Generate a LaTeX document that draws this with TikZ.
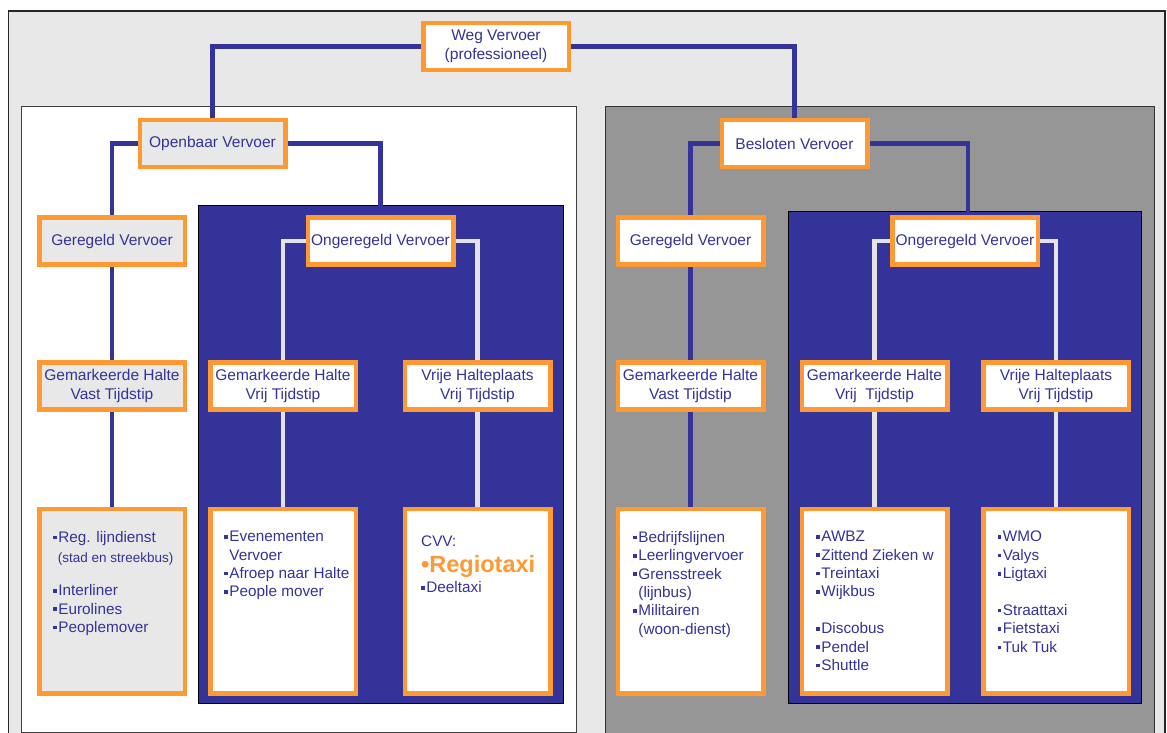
\documentclass[tikz,border=0pt]{standalone}
\usepackage{fontspec}
\setmainfont{Liberation Sans}
\definecolor{navy}{HTML}{333399}
\definecolor{orng}{HTML}{FF9933}
\definecolor{bgray}{HTML}{E8E8E8}
\definecolor{dgray}{HTML}{969696}
\definecolor{lline}{HTML}{E2E2E8}
\newcommand\sqb{\rule[0.2em]{0.24em}{0.24em}\kern0.1em}
\newcommand\sqind{\hspace*{0.34em}}
\pgfdeclarelayer{panels}
\pgfdeclarelayer{links}
\pgfsetlayers{panels,links,main}
\tikzset{
  box/.style={draw=orng, line width=4.5pt, fill=white, text=navy, align=center,
    font=\fontsize{15.5}{18.7}\selectfont, inner sep=0pt,
    minimum width=145.5pt, minimum height=47pt},
  graybox/.style={box, fill=bgray},
  leafbox/.style={box, minimum height=184.5pt},
  grayleaf/.style={leafbox, fill=bgray},
  navyline/.style={draw=navy, line width=4.5pt},
  wline/.style={draw=lline, line width=4.5pt},
  leaftext/.style={anchor=north west, inner sep=0pt, align=left, text=navy,
    font=\fontsize{15.3}{18.4}\selectfont},
  panelnavy/.style={fill=navy, draw=black, line width=1pt},
}
\begin{document}
\begin{tikzpicture}[x=1pt,y=-1pt]
\useasboundingbox (0,0) rectangle (1167,733);
% panels
\begin{pgfonlayer}{panels}
  \fill[white] (0,0) rectangle (1167,733);
  \draw[fill=bgray, draw=black!85, line width=1.5pt] (8.5,11) rectangle (1165,745);
  \draw[fill=white, draw=black!75, line width=1pt] (21.5,107) rectangle (576,732);
  \draw[fill=dgray, draw=black!80, line width=1pt] (605,107) rectangle (1154.5,745);
  \draw[panelnavy] (198,205) rectangle (563,703);
  \draw[panelnavy] (788.5,211) rectangle (1141.5,703);
\end{pgfonlayer}

% level 1
\node[box] (weg) at (496,46.5) {Weg Vervoer\\(professioneel)};
% level 2
\node[graybox] (openb) at (212.5,143.5) {Openbaar Vervoer};
\node[box] (beslo) at (794.5,143.5) {Besloten Vervoer};
% level 3
\node[graybox] (gerL) at (112,241) {Geregeld Vervoer};
\node[box] (ongL) at (380.5,241) {Ongeregeld Vervoer};
\node[box] (gerR) at (690.5,241) {Geregeld Vervoer};
\node[box] (ongR) at (965,241) {Ongeregeld Vervoer};
% level 4
\node[graybox] (gmL) at (112,386) {Gemarkeerde Halte\\Vast Tijdstip};
\node[box] (gmvL) at (283,386) {Gemarkeerde Halte\\Vrij Tijdstip};
\node[box] (vhL) at (477.5,386) {Vrije Halteplaats\\Vrij Tijdstip};
\node[box] (gmR) at (690.5,386) {Gemarkeerde Halte\\Vast Tijdstip};
\node[box] (gmvR) at (874.5,386) {Gemarkeerde Halte\\Vrij~ Tijdstip};
\node[box] (vhR) at (1056,386) {Vrije Halteplaats\\Vrij Tijdstip};
% leaves
\node[grayleaf] (lfL1) at (112,601) {};
\node[leafbox] (lfL2) at (283,601) {};
\node[leafbox] (lfL3) at (477.5,601) {};
\node[leafbox] (lfR1) at (690.5,601) {};
\node[leafbox] (lfR2) at (874.5,601) {};
\node[leafbox] (lfR3) at (1056,601) {};

% leaf texts
\node[leaftext] (tL1) at (53,531) {\sqb Reg. lijndienst\\[1.6pt]
  {\fontsize{13.5}{16}\selectfont\sqind(stad en streekbus)}\\[15pt]
  \sqb Interliner\\ \sqb Eurolines\\ \sqb Peoplemover};
\node[leaftext] (tL2) at (224,531) {\sqb Evenementen\\ \sqind Vervoer\\
  \sqb Afroep naar Halte\\ \sqb People mover};
\node[leaftext] (tL3) at (421,536) {CVV:\\[7pt]
  {\bfseries\fontsize{23.5}{26}\selectfont\color{orng}•Regiotaxi}\\[2pt]
  \sqb Deeltaxi};
\node[leaftext] (tR1) at (633,531) {\sqb Bedrijfslijnen\\ \sqb Leerlingvervoer\\
  \sqb Grensstreek\\ \sqind(lijnbus)\\ \sqb Militairen\\ \sqind(woon-dienst)};
\node[leaftext] (tR2) at (816,531) {\sqb AWBZ\\ \sqb Zittend Zieken w\\
  \sqb Treintaxi\\ \sqb Wijkbus\\[18.4pt] \sqb Discobus\\ \sqb Pendel\\ \sqb Shuttle};
\node[leaftext] (tR3) at (997.5,531) {\sqb WMO\\ \sqb Valys\\ \sqb Ligtaxi\\[18.4pt]
  \sqb Straattaxi\\ \sqb Fietstaxi\\ \sqb Tuk Tuk};

% connectors
\begin{pgfonlayer}{links}
  \draw[navyline] (weg.west) -| (openb.north);
  \draw[navyline] (weg.east) -| (beslo.north);
  \draw[navyline] (openb.west) -| (gerL.north);
  \draw[navyline] (openb.east) -| (ongL.north);
  \draw[navyline] (beslo.west) -| (gerR.north);
  \draw[navyline] (beslo.east) -| ([xshift=3pt]ongR.north);
  \draw[navyline] (gerL.south) -- (gmL.north);
  \draw[navyline] (gmL.south) -- (lfL1.north);
  \draw[navyline] (gerR.south) -- (gmR.north);
  \draw[navyline] (gmR.south) -- (lfR1.north);
  \draw[wline] (ongL.west) -| (gmvL.north);
  \draw[wline] (ongL.east) -| (vhL.north);
  \draw[wline] (gmvL.south) -- (lfL2.north);
  \draw[wline] (vhL.south) -- (lfL3.north);
  \draw[wline] (ongR.west) -| (gmvR.north);
  \draw[wline] (ongR.east) -| (vhR.north);
  \draw[wline] (gmvR.south) -- (lfR2.north);
  \draw[wline] (vhR.south) -- (lfR3.north);
\end{pgfonlayer}
\end{tikzpicture}
\end{document}
